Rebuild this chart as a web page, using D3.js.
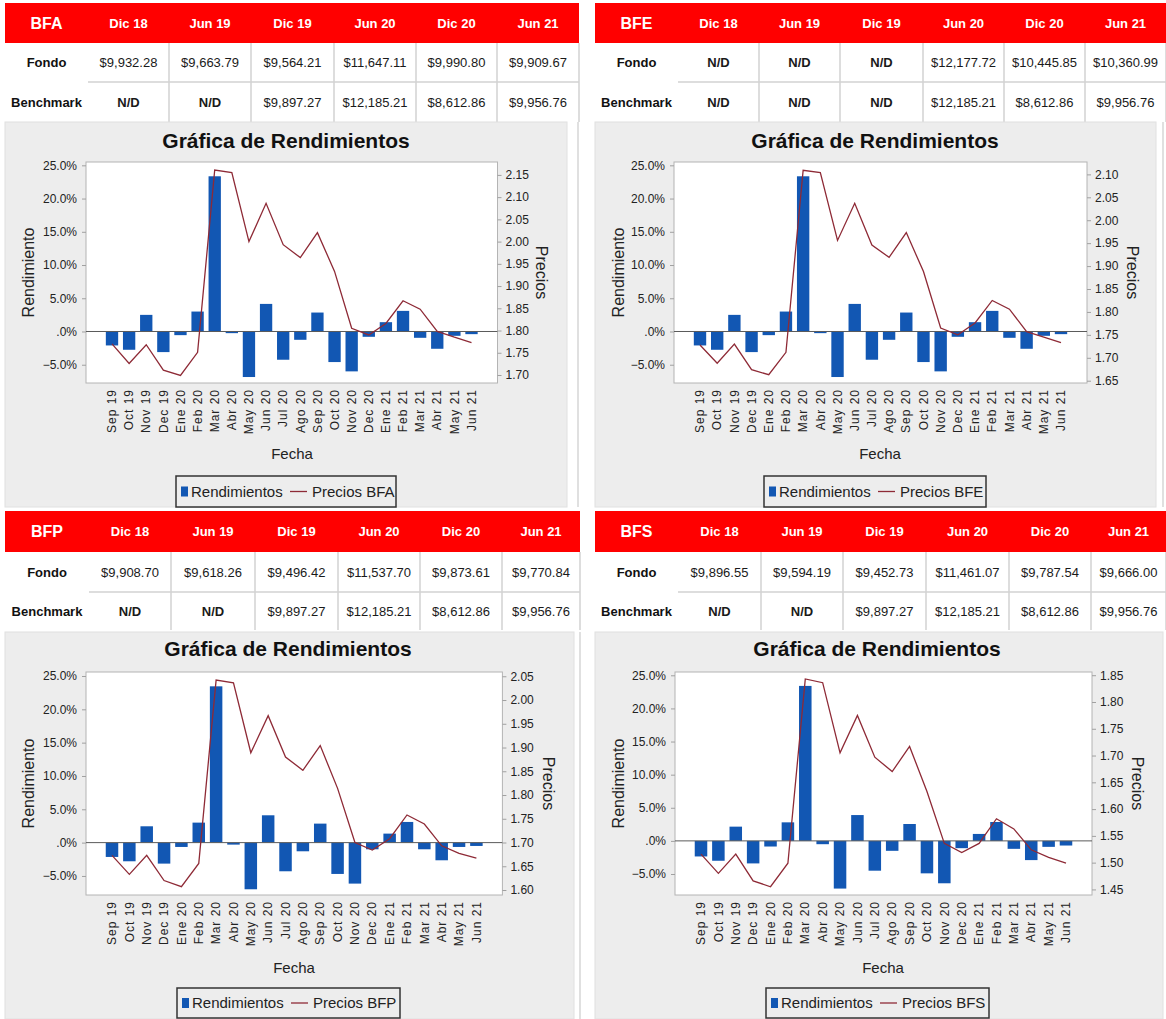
<!DOCTYPE html>
<html>
<head>
<meta charset="utf-8">
<script src="https://cdn.jsdelivr.net/npm/d3@7"></script>
<style>
  body { margin: 0; background: #fff; }
  text { font-family: "Liberation Sans", Arial, sans-serif; }
</style>
</head>
<body>
<script>
// ---- datos ----
var meses = ["Sep 19","Oct 19","Nov 19","Dec 19","Ene 20","Feb 20","Mar 20","Abr 20","May 20","Jun 20","Jul 20",
             "Ago 20","Sep 20","Oct 20","Nov 20","Dec 20","Ene 21","Feb 21","Mar 21","Abr 21","May 21","Jun 21"];
var cortes = ["Dic 18","Jun 19","Dic 19","Jun 20","Dic 20","Jun 21"];
var filas = ["Fondo","Benchmark"];

var fondoBFA = ["$9,932.28","$9,663.79","$9,564.21","$11,647.11","$9,990.80","$9,909.67"];
var fondoBFE = ["N/D","N/D","N/D","$12,177.72","$10,445.85","$10,360.99"];
var fondoBFP = ["$9,908.70","$9,618.26","$9,496.42","$11,537.70","$9,873.61","$9,770.84"];
var fondoBFS = ["$9,896.55","$9,594.19","$9,452.73","$11,461.07","$9,787.54","$9,666.00"];
var benchBFA = ["N/D","N/D","$9,897.27","$12,185.21","$8,612.86","$9,956.76"];
var benchBFE = ["N/D","N/D","N/D","$12,185.21","$8,612.86","$9,956.76"];
var benchBFP = ["N/D","N/D","$9,897.27","$12,185.21","$8,612.86","$9,956.76"];
var benchBFS = ["N/D","N/D","$9,897.27","$12,185.21","$8,612.86","$9,956.76"];

// rendimientos mensuales (%)
var rendBFA = [-2.1,-2.75,2.5,-3.1,-0.55,3.0,23.35,-0.25,-6.85,4.15,-4.25,-1.25,2.85,-4.6,-6.0,-0.8,1.4,3.1,-0.95,-2.6,-0.65,-0.4];
var rendBFE = [-2.1,-2.75,2.5,-3.1,-0.55,3.0,23.35,-0.25,-6.85,4.15,-4.25,-1.25,2.85,-4.6,-6.0,-0.8,1.4,3.1,-0.95,-2.6,-0.65,-0.4];
var rendBFP = [-2.15,-2.8,2.45,-3.15,-0.65,3.0,23.45,-0.3,-7.0,4.1,-4.3,-1.3,2.85,-4.7,-6.15,-1.0,1.35,3.1,-1.0,-2.65,-0.65,-0.5];
var rendBFS = [-2.35,-3.0,2.15,-3.4,-0.85,2.8,23.4,-0.5,-7.2,3.9,-4.5,-1.5,2.55,-4.9,-6.4,-1.1,1.05,2.85,-1.2,-2.9,-0.9,-0.7];

// precios
var preciosBFA = [1.770,1.726,1.768,1.711,1.699,1.751,2.161,2.155,2.000,2.086,1.993,1.964,2.020,1.933,1.805,1.790,1.816,1.867,1.848,1.798,1.785,1.773];
var preciosBFE = [1.728,1.688,1.730,1.674,1.663,1.712,2.109,2.104,1.956,2.037,1.946,1.919,1.973,1.888,1.765,1.750,1.776,1.825,1.806,1.757,1.745,1.733];
var preciosBFP = [1.673,1.633,1.673,1.620,1.607,1.656,2.042,2.036,1.889,1.967,1.880,1.852,1.904,1.814,1.700,1.684,1.708,1.758,1.739,1.693,1.677,1.667];
var preciosBFS = [1.516,1.480,1.516,1.466,1.455,1.499,1.843,1.836,1.705,1.775,1.697,1.670,1.717,1.633,1.536,1.519,1.536,1.582,1.563,1.524,1.510,1.499];

var rendTicks = [-5,0,5,10,15,20,25];
var ticksBFA = [1.70,1.75,1.80,1.85,1.90,1.95,2.00,2.05,2.10,2.15];
var ticksBFE = [1.65,1.70,1.75,1.80,1.85,1.90,1.95,2.00,2.05,2.10];
var ticksBFP = [1.60,1.65,1.70,1.75,1.80,1.85,1.90,1.95,2.00,2.05];
var ticksBFS = [1.45,1.50,1.55,1.60,1.65,1.70,1.75,1.80,1.85];

// ---- layout de cada panel ----
var panels = [
  { name: "BFA", fondo: fondoBFA, bench: benchBFA, rend: rendBFA, precios: preciosBFA, ticks: ticksBFA,
    cols: [5,88,169,251,334,416,497,579], rows: [3,43,82,122],
    bg: { x0: 5, x1: 567, y0: 122, y1: 507, sep: 578 },
    plot: { l: 86, r: 497.5, t: 162, b: 383 }, yl: [-7.75,25.5], yr: [1.682,2.179],
    rendX: 28, preciosX: 542, titleX: 286, titleY: 147, fechaX: 292, fechaY: 459,
    legend: { x: 176, y: 476, w: 220, h: 31 } },
  { name: "BFE", fondo: fondoBFE, bench: benchBFE, rend: rendBFE, precios: preciosBFE, ticks: ticksBFE,
    cols: [595,678,759,840,923,1004,1085,1166], rows: [3,43,82,122],
    bg: { x0: 595, x1: 1156, y0: 122, y1: 507, sep: 1163 },
    plot: { l: 674, r: 1087, t: 162, b: 383 }, yl: [-7.75,25.5], yr: [1.645,2.127],
    rendX: 618, preciosX: 1133, titleX: 875, titleY: 147, fechaX: 880, fechaY: 459,
    legend: { x: 764, y: 476, w: 222, h: 31 } },
  { name: "BFP", fondo: fondoBFP, bench: benchBFP, rend: rendBFP, precios: preciosBFP, ticks: ticksBFP,
    cols: [5,89,171,255,338,420,502,580], rows: [511,552,592,630],
    bg: { x0: 5, x1: 574, y0: 632, y1: 1019, sep: 580 },
    plot: { l: 86, r: 502.4, t: 672, b: 895 }, yl: [-7.86,25.6], yr: [1.5895,2.059],
    rendX: 28, preciosX: 549, titleX: 288, titleY: 655, fechaX: 294, fechaY: 973,
    legend: { x: 177, y: 988, w: 223, h: 30 } },
  { name: "BFS", fondo: fondoBFS, bench: benchBFS, rend: rendBFS, precios: preciosBFS, ticks: ticksBFS,
    cols: [595,678,761,843,926,1009,1091,1166], rows: [511,552,592,630],
    bg: { x0: 595, x1: 1163, y0: 632, y1: 1019, sep: null },
    plot: { l: 675, r: 1092, t: 672, b: 895 }, yl: [-8.17,25.5], yr: [1.4396,1.856],
    rendX: 618, preciosX: 1138, titleX: 877, titleY: 655, fechaX: 883, fechaY: 973,
    legend: { x: 766, y: 988, w: 223, h: 30 } }
];

var BLUE = "#1257b3", LINE = "#8e2a36", RED = "#ff0000", GRID = "#d2d2d2";

var svg = d3.select("body").append("svg")
  .attr("width", 1166).attr("height", 1019);

panels.forEach(function (p) {
  var g = svg.append("g");

  // ---- tabla ----
  var c = p.cols, r = p.rows;
  g.append("rect").attr("x", c[0]).attr("y", r[0]).attr("width", c[7] - c[0]).attr("height", r[1] - r[0])
    .attr("fill", RED);
  g.append("text").attr("x", (c[0] + c[1]) / 2).attr("y", (r[0] + r[1]) / 2).attr("dy", "0.36em")
    .attr("text-anchor", "middle").attr("fill", "#fff").attr("font-size", 16).attr("font-weight", "bold")
    .text(p.name);
  cortes.forEach(function (h, i) {
    g.append("text").attr("x", (c[i + 1] + c[i + 2]) / 2).attr("y", (r[0] + r[1]) / 2).attr("dy", "0.36em")
      .attr("text-anchor", "middle").attr("fill", "#fff").attr("font-size", 13).attr("font-weight", "bold")
      .text(h);
  });
  // lineas de la rejilla
  for (var k = 2; k <= 7; k++) {
    g.append("line").attr("x1", c[k]).attr("x2", c[k]).attr("y1", r[1]).attr("y2", r[3])
      .attr("stroke", GRID).attr("stroke-width", 1.5);
  }
  g.append("line").attr("x1", c[1]).attr("x2", c[7]).attr("y1", r[2]).attr("y2", r[2])
    .attr("stroke", GRID).attr("stroke-width", 1.5);

  [p.fondo, p.bench].forEach(function (vals, j) {
    var cy = (r[j + 1] + r[j + 2]) / 2;
    g.append("text").attr("x", (c[0] + c[1]) / 2).attr("y", cy).attr("dy", "0.36em")
      .attr("text-anchor", "middle").attr("font-size", 13).attr("font-weight", "bold").attr("fill", "#111")
      .text(filas[j]);
    vals.forEach(function (v, i) {
      g.append("text").attr("x", (c[i + 1] + c[i + 2]) / 2).attr("y", cy).attr("dy", "0.36em")
        .attr("text-anchor", "middle").attr("font-size", 13).attr("fill", "#1a1a1a")
        .attr("font-weight", v == "N/D" ? "bold" : "normal")
        .text(v);
    });
  });

  // ---- fondo de la grafica ----
  var b = p.bg;
  g.append("rect").attr("x", b.x0).attr("y", b.y0).attr("width", b.x1 - b.x0).attr("height", b.y1 - b.y0)
    .attr("fill", "#ededed").attr("stroke", "#e0e0e0");
  if (b.sep) {
    g.append("line").attr("x1", b.sep).attr("x2", b.sep).attr("y1", b.y0).attr("y2", b.y1)
      .attr("stroke", "#d6d6d6").attr("stroke-width", 1.5);
  }

  var pl = p.plot;
  g.append("rect").attr("x", pl.l).attr("y", pl.t).attr("width", pl.r - pl.l).attr("height", pl.b - pl.t)
    .attr("fill", "#fff").attr("stroke", "#b4b4b4");

  // titulo
  g.append("text").attr("x", p.titleX).attr("y", p.titleY + 1).attr("text-anchor", "middle")
    .attr("font-size", 21).attr("font-weight", "bold").attr("fill", "#111")
    .text("Gráfica de Rendimientos");

  // escalas
  var x = d3.scalePoint().domain(meses).range([pl.l + 26, pl.r - 26]);
  var bw = x.step() * 0.72;
  var yl = d3.scaleLinear().domain(p.yl).range([pl.b, pl.t]);
  var yr = d3.scaleLinear().domain(p.yr).range([pl.b, pl.t]);

  // barras
  g.append("g").selectAll("rect").data(p.rend).join("rect")
    .attr("x", function (d, i) { return x(meses[i]) - bw / 2; })
    .attr("y", function (d) { return yl(Math.max(0, d)); })
    .attr("width", bw)
    .attr("height", function (d) { return Math.abs(yl(d) - yl(0)); })
    .attr("fill", BLUE);

  // linea cero
  g.append("line").attr("x1", pl.l).attr("x2", pl.r).attr("y1", yl(0)).attr("y2", yl(0))
    .attr("stroke", "#5a5a5a").attr("stroke-width", 1);

  // precios
  var line = d3.line().x(function (d, i) { return x(meses[i]); }).y(function (d) { return yr(d); });
  g.append("path").datum(p.precios).attr("d", line)
    .attr("fill", "none").attr("stroke", LINE).attr("stroke-width", 1.3);

  // ejes
  var axL = g.append("g").attr("transform", "translate(" + pl.l + ",0)")
    .call(d3.axisLeft(yl).tickValues(rendTicks).tickSize(4).tickPadding(5)
      .tickFormat(function (d) { return d === 0 ? ".0%" : d3.format(".1f")(d) + "%"; }));
  var axR = g.append("g").attr("transform", "translate(" + pl.r + ",0)")
    .call(d3.axisRight(yr).tickValues(p.ticks).tickSize(4).tickPadding(4).tickFormat(d3.format(".2f")));
  [axL, axR].forEach(function (ax) {
    ax.select(".domain").remove();
    ax.selectAll(".tick line").attr("stroke", "#a0a0a0");
    ax.selectAll(".tick text").attr("font-size", 12).attr("fill", "#222")
      .style("font-family", "'Liberation Sans', Arial, sans-serif");
  });

  // etiquetas eje x
  g.append("g").selectAll("text").data(meses).join("text")
    .attr("transform", function (d) { return "translate(" + x(d) + "," + (pl.b + 6) + ") rotate(-90)"; })
    .attr("dy", "0.35em").attr("text-anchor", "end")
    .attr("font-size", 12).attr("letter-spacing", 1).attr("fill", "#222")
    .text(function (d) { return d; });

  var midY = (pl.t + pl.b) / 2;
  g.append("text").attr("transform", "translate(" + p.rendX + "," + midY + ") rotate(-90)")
    .attr("text-anchor", "middle").attr("dy", "0.35em").attr("font-size", 16).attr("fill", "#222")
    .text("Rendimiento");
  g.append("text").attr("transform", "translate(" + p.preciosX + "," + midY + ") rotate(90)")
    .attr("text-anchor", "middle").attr("dy", "0.35em").attr("font-size", 16).attr("fill", "#222")
    .text("Precios");
  g.append("text").attr("x", p.fechaX).attr("y", p.fechaY).attr("text-anchor", "middle")
    .attr("font-size", 15).attr("fill", "#222").text("Fecha");

  // leyenda
  var lg = p.legend;
  g.append("rect").attr("x", lg.x).attr("y", lg.y).attr("width", lg.w).attr("height", lg.h)
    .attr("fill", "#ededed").attr("stroke", "#333").attr("stroke-width", 1.5);
  var ly = lg.y + lg.h / 2;
  g.append("rect").attr("x", lg.x + 5).attr("y", ly - 5).attr("width", 7).attr("height", 10).attr("fill", BLUE);
  g.append("text").attr("x", lg.x + 15).attr("y", ly).attr("dy", "0.36em").attr("font-size", 15)
    .attr("fill", "#222").text("Rendimientos");
  g.append("line").attr("x1", lg.x + 114).attr("x2", lg.x + 131).attr("y1", ly).attr("y2", ly)
    .attr("stroke", LINE).attr("stroke-width", 1.3);
  g.append("text").attr("x", lg.x + 136).attr("y", ly).attr("dy", "0.36em").attr("font-size", 15)
    .attr("fill", "#222").text("Precios " + p.name);
});
</script>
</body>
</html>
